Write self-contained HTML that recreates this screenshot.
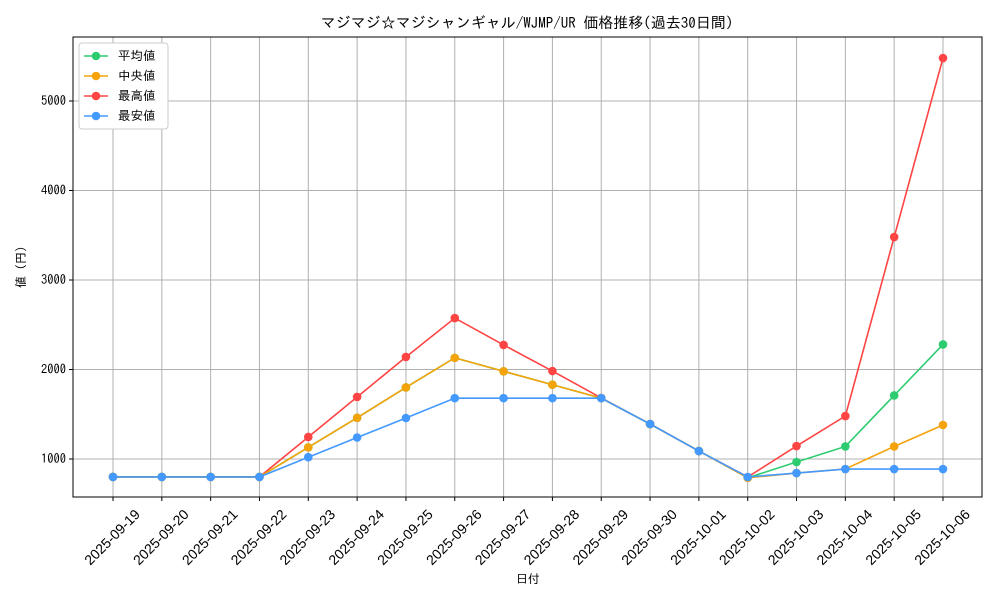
<!DOCTYPE html>
<html><head><meta charset="utf-8">
<style>
body{margin:0;background:#fff;}
svg{display:block;font-family:"IPAGothic","Noto Sans CJK JP",sans-serif;}
</style></head>
<body>
<svg id="chart" width="1000" height="600" viewBox="0 0 1000 600">
<text x="527" y="28" text-anchor="middle" font-size="15">マジマジ☆マジシャンギャル/WJMP/UR 価格推移(過去30日間)</text>
<g id="grid"></g>
<g id="axes"></g>
<g id="series"></g>
<text x="528" y="583" text-anchor="middle" font-size="12">日付</text>
<text transform="translate(25,267) rotate(-90)" text-anchor="middle" font-size="12">値 (円)</text>
<g id="legend"></g>
</svg>
<script>
const categories=["2025-09-19","2025-09-20","2025-09-21","2025-09-22","2025-09-23","2025-09-24","2025-09-25","2025-09-26","2025-09-27","2025-09-28","2025-09-29","2025-09-30","2025-10-01","2025-10-02","2025-10-03","2025-10-04","2025-10-05","2025-10-06"];
const avgValues=[800,800,800,800,1130,1460,1800,2130,1980,1830,1680,1390,1090,790,966,1140,1710,2280];
const medianValues=[800,800,800,800,1130,1460,1800,2130,1980,1830,1680,1390,1090,790,843,888,1140,1380];
const maxValues=[800,800,800,800,1246,1693,2140,2575,2274,1983,1682,1391,1089,799,1145,1480,3480,5480];
const minValues=[800,800,800,800,1020,1240,1458,1680,1680,1680,1680,1391,1089,799,843,888,888,888];
const yTicks=[1000,2000,3000,4000,5000];
const seriesNames=["平均値","中央値","最高値","最安値"];
const seriesColors=["#2ecc71","#f5a30a","#ff4444","#4499ff"];

const NS="http://www.w3.org/2000/svg";
const L=73,R=982,T=37,B=497;
const x0=113,dx=(943-113)/17;
function xs(i){return x0+i*dx;}
function ys(v){return 459-(v-1000)*0.0895;}
function mk(tag,attrs,parent){const e=document.createElementNS(NS,tag);for(const k in attrs)e.setAttribute(k,attrs[k]);parent.appendChild(e);return e;}
const grid=document.getElementById('grid'),axes=document.getElementById('axes'),ser=document.getElementById('series'),leg=document.getElementById('legend');
categories.forEach((c,i)=>{
  const g=mk('line',{x1:xs(i),x2:xs(i),y1:T,y2:B,stroke:'#b0b0b0','stroke-width':1},grid);
  
  
  mk('line',{x1:xs(i),x2:xs(i),y1:B,y2:B+4,stroke:'#000'},axes);
  const cx=xs(i)-1,cy=537;
  const t=mk('text',{x:cx,y:cy+5,'font-size':14,'text-anchor':'middle','font-family':'"Liberation Sans Narrow","Liberation Sans",sans-serif',transform:`rotate(-45 ${cx} ${cy})`},axes);
  t.textContent=c;
  
  
});
yTicks.forEach(v=>{
  const g=mk('line',{x1:L,x2:R,y1:ys(v),y2:ys(v),stroke:'#b0b0b0','stroke-width':1},grid);
  
  
  mk('line',{x1:L-4,x2:L,y1:ys(v),y2:ys(v),stroke:'#000'},axes);
  const t=mk('text',{x:L-7,y:ys(v)+4,'font-size':12.5,'text-anchor':'end'},axes);
  t.textContent=v;
  
  
});
const fr=mk('rect',{x:L,y:T,width:R-L,height:B-T,fill:'none',stroke:'#000','stroke-width':1},axes);


const all=[avgValues,medianValues,maxValues,minValues];
const order=[2,0,1,3];
order.forEach(s=>{
  const vals=all[s];
  const p=mk('polyline',{points:vals.map((v,i)=>xs(i)+','+ys(v)).join(' '),fill:'none',stroke:seriesColors[s],'stroke-width':1.6},ser);
  
  
  vals.forEach((v,i)=>{
    const c=mk('circle',{cx:xs(i),cy:ys(v),r:4.3,fill:seriesColors[s]},ser);
    
    
  });
});
const lb=mk('rect',{x:79,y:43,width:89,height:86,fill:'#fff',stroke:'#ccc',rx:3},leg);


seriesNames.forEach((n,i)=>{
  const y=56+i*20;
  const g=mk('g',{},leg);
  
  
  mk('line',{x1:84,x2:108,y1:y,y2:y,stroke:seriesColors[i],'stroke-width':1.6},g);
  mk('circle',{cx:96,cy:y,r:4.3,fill:seriesColors[i]},g);
  const t=mk('text',{x:118,y:y+4,'font-size':12.5},g);
  t.textContent=n;
});
</script>
</body></html>
